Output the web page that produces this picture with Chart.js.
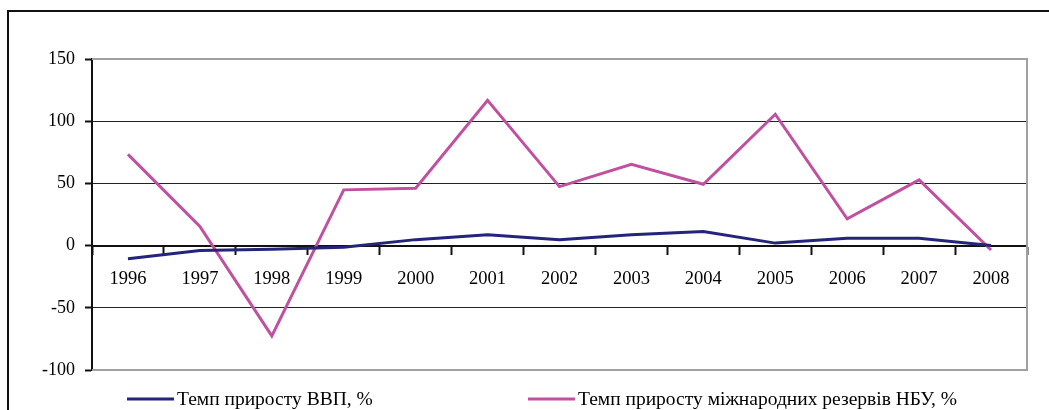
<!DOCTYPE html>
<html>
<head>
<meta charset="utf-8">
<script src="https://cdn.jsdelivr.net/npm/chart.js@4/dist/chart.umd.min.js"></script>
<style>
  html, body { margin: 0; padding: 0; background: #fff; }
  #wrap { position: relative; width: 1049px; height: 410px; }
</style>
</head>
<body>
<div id="wrap"><canvas id="chart" width="1049" height="410"></canvas></div>
<script>
// Chart data
const years = ['1996', '1997', '1998', '1999', '2000', '2001', '2002', '2003', '2004', '2005', '2006', '2007', '2008'];
const gdpGrowth = [-10.5, -4, -3, -1.4, 4.8, 8.8, 4.8, 8.8, 11.4, 2, 6, 6, 0];
const reservesGrowth = [73.3, 15.4, -72.6, 44.8, 46.1, 116.8, 47.4, 65.3, 49.3, 105.6, 21.6, 52.8, -3.5];
const seriesNames = ['Темп приросту ВВП, %', 'Темп приросту міжнародних резервів НБУ, %'];
const yTicks = [-100, -50, 0, 50, 100, 150];

const navy = '#24247a';
const pink = '#c050a0';
const font = '"Liberation Serif", "Times New Roman", serif';

// outer frame + plot border
const framePlugin = {
  id: 'frame',
  beforeDraw(chart) {
    const ctx = chart.ctx;
    ctx.save();
    ctx.fillStyle = '#fff';
    ctx.fillRect(0, 0, chart.width, chart.height);
    ctx.strokeStyle = '#111';
    ctx.lineWidth = 2;
    ctx.strokeRect(8, 11, chart.width + 10, chart.height + 10);
    ctx.restore();
  },
  beforeDatasetsDraw(chart) {
    const { ctx, chartArea: a } = chart;
    ctx.save();
    ctx.strokeStyle = '#a0a0a0';
    ctx.lineWidth = 2;
    ctx.beginPath();
    ctx.moveTo(a.left, a.top);
    ctx.lineTo(a.right, a.top);
    ctx.lineTo(a.right, a.bottom);
    ctx.lineTo(a.left, a.bottom);
    ctx.stroke();
    ctx.restore();
  }
};

// legend drawn along the bottom
const legendPlugin = {
  id: 'bottomLegend',
  afterDraw(chart) {
    const ctx = chart.ctx;
    const items = [
      { x: 127, color: navy, text: seriesNames[0] },
      { x: 528, color: pink, text: seriesNames[1] }
    ];
    ctx.save();
    ctx.font = '19.5px ' + font;
    ctx.textBaseline = 'alphabetic';
    items.forEach(it => {
      ctx.strokeStyle = it.color;
      ctx.lineWidth = 3;
      ctx.beginPath();
      ctx.moveTo(it.x, 399);
      ctx.lineTo(it.x + 47, 399);
      ctx.stroke();
      ctx.fillStyle = '#000';
      ctx.fillText(it.text, it.x + 50, 405);
    });
    ctx.restore();
  }
};

new Chart(document.getElementById('chart'), {
  type: 'line',
  data: {
    labels: years,
    datasets: [
      {
        label: seriesNames[0],
        data: gdpGrowth,
        borderColor: navy,
        borderWidth: 3,
        pointRadius: 0,
        tension: 0
      },
      {
        label: seriesNames[1],
        data: reservesGrowth,
        borderColor: pink,
        borderWidth: 3,
        pointRadius: 0,
        tension: 0
      }
    ]
  },
  options: {
    responsive: false,
    animation: false,
    layout: { padding: { left: 0, right: 22, top: 59, bottom: 40 } },
    plugins: {
      legend: { display: false },
      tooltip: { enabled: false }
    },
    scales: {
      x: {
        position: { y: 0 },
        offset: true,
        grid: {
          offset: true,
          drawOnChartArea: false,
          drawTicks: true,
          tickLength: 8,
          tickWidth: 2,
          tickColor: '#111'
        },
        border: { color: '#111', width: 2 },
        ticks: {
          color: '#000',
          font: { family: font, size: 18.5 },
          padding: 14,
          maxRotation: 0,
          autoSkip: false
        }
      },
      y: {
        min: -100,
        max: 150,
        afterBuildTicks(scale) {
          scale.ticks = yTicks.map(v => ({ value: v }));
        },
        afterFit(scale) {
          scale.width = 92;
        },
        grid: {
          color: ctx => (ctx.tick && (ctx.tick.value === 150 || ctx.tick.value === -100)) ? 'rgba(0,0,0,0)' : '#222',
          lineWidth: 1,
          drawTicks: true,
          tickLength: 7,
          tickColor: '#111',
          tickWidth: 2
        },
        border: { color: '#111', width: 2 },
        ticks: {
          color: '#000',
          font: { family: font, size: 18 },
          padding: 10
        }
      }
    }
  },
  plugins: [framePlugin, legendPlugin]
});
</script>
</body>
</html>
